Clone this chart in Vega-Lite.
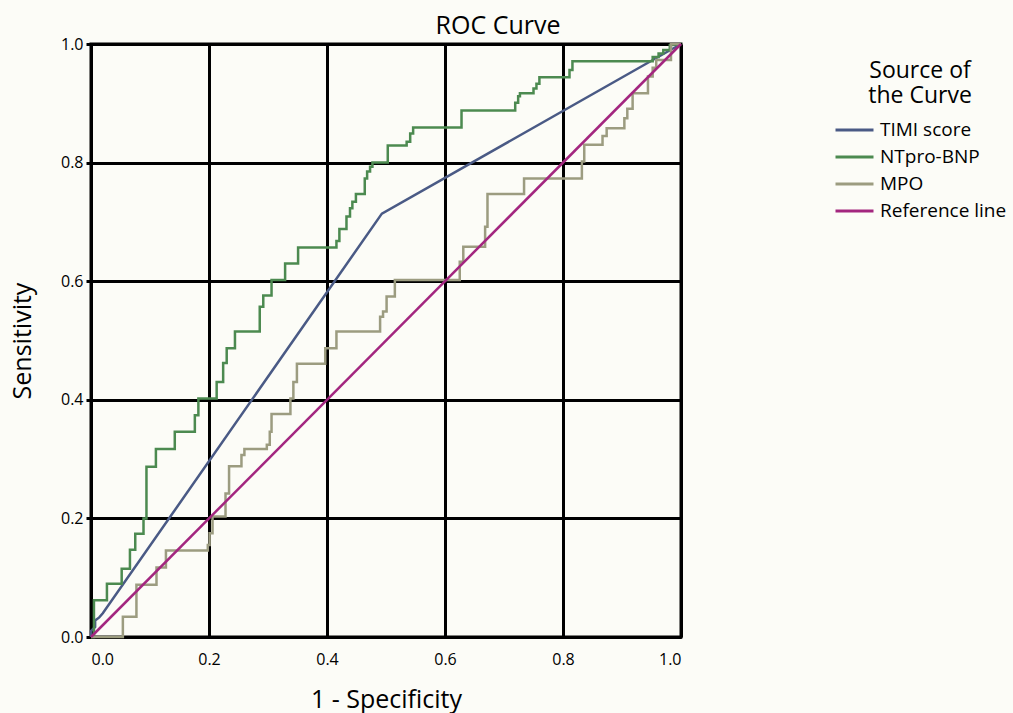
{
  "$schema": "https://vega.github.io/schema/vega-lite/v6.json",
  "autosize": "none",
  "width": 590,
  "height": 593,
  "padding": {"left": 91, "top": 44, "right": 332, "bottom": 76},
  "background": "#fcfcf7",
  "config": {
    "font": "Open Sans",
    "view": {"stroke": "black", "strokeWidth": 3},
    "axis": {
      "gridColor": "black", "gridWidth": 3, "gridOpacity": 1,
      "domainColor": "black", "domainWidth": 3,
      "labelColor": "black", "titleColor": "black",
      "labelFontSize": 16, "titleFontSize": 25, "titleFontWeight": "normal"
    }
  },
  "title": {
    "text": "ROC Curve", "fontSize": 25, "fontWeight": "normal", "color": "black",
    "anchor": "middle", "frame": "group", "dx": 112, "dy": 34, "baseline": "alphabetic", "offset": 11
  },
  "data": {"values": [
    {"curve": "TIMI score", "i": 0, "x": 0, "y": 0},
    {"curve": "TIMI score", "i": 1, "x": 0, "y": 0.01},
    {"curve": "TIMI score", "i": 2, "x": 0.007, "y": 0.017},
    {"curve": "TIMI score", "i": 3, "x": 0.007, "y": 0.028},
    {"curve": "TIMI score", "i": 4, "x": 0.014, "y": 0.033},
    {"curve": "TIMI score", "i": 5, "x": 0.02, "y": 0.04},
    {"curve": "TIMI score", "i": 6, "x": 0.493, "y": 0.714},
    {"curve": "TIMI score", "i": 7, "x": 1, "y": 1},

    {"curve": "NTpro-BNP", "i": 0, "x": 0, "y": 0},
    {"curve": "NTpro-BNP", "i": 1, "x": 0.005, "y": 0},
    {"curve": "NTpro-BNP", "i": 2, "x": 0.005, "y": 0.062},
    {"curve": "NTpro-BNP", "i": 3, "x": 0.027, "y": 0.062},
    {"curve": "NTpro-BNP", "i": 4, "x": 0.027, "y": 0.09},
    {"curve": "NTpro-BNP", "i": 5, "x": 0.052, "y": 0.09},
    {"curve": "NTpro-BNP", "i": 6, "x": 0.052, "y": 0.115},
    {"curve": "NTpro-BNP", "i": 7, "x": 0.066, "y": 0.115},
    {"curve": "NTpro-BNP", "i": 8, "x": 0.066, "y": 0.147},
    {"curve": "NTpro-BNP", "i": 9, "x": 0.075, "y": 0.147},
    {"curve": "NTpro-BNP", "i": 10, "x": 0.075, "y": 0.174},
    {"curve": "NTpro-BNP", "i": 11, "x": 0.089, "y": 0.174},
    {"curve": "NTpro-BNP", "i": 12, "x": 0.089, "y": 0.2},
    {"curve": "NTpro-BNP", "i": 13, "x": 0.094, "y": 0.2},
    {"curve": "NTpro-BNP", "i": 14, "x": 0.094, "y": 0.287},
    {"curve": "NTpro-BNP", "i": 15, "x": 0.11, "y": 0.287},
    {"curve": "NTpro-BNP", "i": 16, "x": 0.11, "y": 0.317},
    {"curve": "NTpro-BNP", "i": 17, "x": 0.142, "y": 0.317},
    {"curve": "NTpro-BNP", "i": 18, "x": 0.142, "y": 0.346},
    {"curve": "NTpro-BNP", "i": 19, "x": 0.176, "y": 0.346},
    {"curve": "NTpro-BNP", "i": 20, "x": 0.176, "y": 0.374},
    {"curve": "NTpro-BNP", "i": 21, "x": 0.182, "y": 0.374},
    {"curve": "NTpro-BNP", "i": 22, "x": 0.182, "y": 0.402},
    {"curve": "NTpro-BNP", "i": 23, "x": 0.213, "y": 0.402},
    {"curve": "NTpro-BNP", "i": 24, "x": 0.213, "y": 0.43},
    {"curve": "NTpro-BNP", "i": 25, "x": 0.224, "y": 0.43},
    {"curve": "NTpro-BNP", "i": 26, "x": 0.224, "y": 0.462},
    {"curve": "NTpro-BNP", "i": 27, "x": 0.23, "y": 0.462},
    {"curve": "NTpro-BNP", "i": 28, "x": 0.23, "y": 0.487},
    {"curve": "NTpro-BNP", "i": 29, "x": 0.244, "y": 0.487},
    {"curve": "NTpro-BNP", "i": 30, "x": 0.244, "y": 0.515},
    {"curve": "NTpro-BNP", "i": 31, "x": 0.286, "y": 0.515},
    {"curve": "NTpro-BNP", "i": 32, "x": 0.286, "y": 0.557},
    {"curve": "NTpro-BNP", "i": 33, "x": 0.292, "y": 0.557},
    {"curve": "NTpro-BNP", "i": 34, "x": 0.292, "y": 0.576},
    {"curve": "NTpro-BNP", "i": 35, "x": 0.306, "y": 0.576},
    {"curve": "NTpro-BNP", "i": 36, "x": 0.306, "y": 0.602},
    {"curve": "NTpro-BNP", "i": 37, "x": 0.329, "y": 0.602},
    {"curve": "NTpro-BNP", "i": 38, "x": 0.329, "y": 0.63},
    {"curve": "NTpro-BNP", "i": 39, "x": 0.351, "y": 0.63},
    {"curve": "NTpro-BNP", "i": 40, "x": 0.351, "y": 0.657},
    {"curve": "NTpro-BNP", "i": 41, "x": 0.416, "y": 0.657},
    {"curve": "NTpro-BNP", "i": 42, "x": 0.416, "y": 0.668},
    {"curve": "NTpro-BNP", "i": 43, "x": 0.421, "y": 0.668},
    {"curve": "NTpro-BNP", "i": 44, "x": 0.421, "y": 0.688},
    {"curve": "NTpro-BNP", "i": 45, "x": 0.433, "y": 0.688},
    {"curve": "NTpro-BNP", "i": 46, "x": 0.433, "y": 0.709},
    {"curve": "NTpro-BNP", "i": 47, "x": 0.439, "y": 0.709},
    {"curve": "NTpro-BNP", "i": 48, "x": 0.439, "y": 0.723},
    {"curve": "NTpro-BNP", "i": 49, "x": 0.443, "y": 0.723},
    {"curve": "NTpro-BNP", "i": 50, "x": 0.443, "y": 0.734},
    {"curve": "NTpro-BNP", "i": 51, "x": 0.449, "y": 0.734},
    {"curve": "NTpro-BNP", "i": 52, "x": 0.449, "y": 0.747},
    {"curve": "NTpro-BNP", "i": 53, "x": 0.464, "y": 0.747},
    {"curve": "NTpro-BNP", "i": 54, "x": 0.464, "y": 0.773},
    {"curve": "NTpro-BNP", "i": 55, "x": 0.468, "y": 0.773},
    {"curve": "NTpro-BNP", "i": 56, "x": 0.468, "y": 0.785},
    {"curve": "NTpro-BNP", "i": 57, "x": 0.473, "y": 0.785},
    {"curve": "NTpro-BNP", "i": 58, "x": 0.473, "y": 0.793},
    {"curve": "NTpro-BNP", "i": 59, "x": 0.477, "y": 0.793},
    {"curve": "NTpro-BNP", "i": 60, "x": 0.477, "y": 0.8},
    {"curve": "NTpro-BNP", "i": 61, "x": 0.503, "y": 0.8},
    {"curve": "NTpro-BNP", "i": 62, "x": 0.503, "y": 0.829},
    {"curve": "NTpro-BNP", "i": 63, "x": 0.535, "y": 0.829},
    {"curve": "NTpro-BNP", "i": 64, "x": 0.535, "y": 0.835},
    {"curve": "NTpro-BNP", "i": 65, "x": 0.541, "y": 0.835},
    {"curve": "NTpro-BNP", "i": 66, "x": 0.541, "y": 0.849},
    {"curve": "NTpro-BNP", "i": 67, "x": 0.546, "y": 0.849},
    {"curve": "NTpro-BNP", "i": 68, "x": 0.546, "y": 0.859},
    {"curve": "NTpro-BNP", "i": 69, "x": 0.628, "y": 0.859},
    {"curve": "NTpro-BNP", "i": 70, "x": 0.628, "y": 0.888},
    {"curve": "NTpro-BNP", "i": 71, "x": 0.719, "y": 0.888},
    {"curve": "NTpro-BNP", "i": 72, "x": 0.719, "y": 0.901},
    {"curve": "NTpro-BNP", "i": 73, "x": 0.724, "y": 0.901},
    {"curve": "NTpro-BNP", "i": 74, "x": 0.724, "y": 0.912},
    {"curve": "NTpro-BNP", "i": 75, "x": 0.727, "y": 0.912},
    {"curve": "NTpro-BNP", "i": 76, "x": 0.727, "y": 0.917},
    {"curve": "NTpro-BNP", "i": 77, "x": 0.75, "y": 0.917},
    {"curve": "NTpro-BNP", "i": 78, "x": 0.75, "y": 0.925},
    {"curve": "NTpro-BNP", "i": 79, "x": 0.755, "y": 0.925},
    {"curve": "NTpro-BNP", "i": 80, "x": 0.755, "y": 0.933},
    {"curve": "NTpro-BNP", "i": 81, "x": 0.76, "y": 0.933},
    {"curve": "NTpro-BNP", "i": 82, "x": 0.76, "y": 0.944},
    {"curve": "NTpro-BNP", "i": 83, "x": 0.811, "y": 0.944},
    {"curve": "NTpro-BNP", "i": 84, "x": 0.811, "y": 0.956},
    {"curve": "NTpro-BNP", "i": 85, "x": 0.816, "y": 0.956},
    {"curve": "NTpro-BNP", "i": 86, "x": 0.816, "y": 0.971},
    {"curve": "NTpro-BNP", "i": 87, "x": 0.952, "y": 0.971},
    {"curve": "NTpro-BNP", "i": 88, "x": 0.952, "y": 0.978},
    {"curve": "NTpro-BNP", "i": 89, "x": 0.962, "y": 0.978},
    {"curve": "NTpro-BNP", "i": 90, "x": 0.962, "y": 0.984},
    {"curve": "NTpro-BNP", "i": 91, "x": 0.97, "y": 0.984},
    {"curve": "NTpro-BNP", "i": 92, "x": 0.97, "y": 0.99},
    {"curve": "NTpro-BNP", "i": 93, "x": 0.981, "y": 0.99},
    {"curve": "NTpro-BNP", "i": 94, "x": 0.981, "y": 0.998},
    {"curve": "NTpro-BNP", "i": 95, "x": 1, "y": 1},

    {"curve": "MPO", "i": 0, "x": 0, "y": 0},
    {"curve": "MPO", "i": 1, "x": 0.054, "y": 0},
    {"curve": "MPO", "i": 2, "x": 0.054, "y": 0.034},
    {"curve": "MPO", "i": 3, "x": 0.077, "y": 0.034},
    {"curve": "MPO", "i": 4, "x": 0.077, "y": 0.088},
    {"curve": "MPO", "i": 5, "x": 0.111, "y": 0.088},
    {"curve": "MPO", "i": 6, "x": 0.111, "y": 0.117},
    {"curve": "MPO", "i": 7, "x": 0.127, "y": 0.117},
    {"curve": "MPO", "i": 8, "x": 0.127, "y": 0.146},
    {"curve": "MPO", "i": 9, "x": 0.198, "y": 0.146},
    {"curve": "MPO", "i": 10, "x": 0.198, "y": 0.155},
    {"curve": "MPO", "i": 11, "x": 0.201, "y": 0.155},
    {"curve": "MPO", "i": 12, "x": 0.201, "y": 0.175},
    {"curve": "MPO", "i": 13, "x": 0.206, "y": 0.175},
    {"curve": "MPO", "i": 14, "x": 0.206, "y": 0.203},
    {"curve": "MPO", "i": 15, "x": 0.228, "y": 0.203},
    {"curve": "MPO", "i": 16, "x": 0.228, "y": 0.242},
    {"curve": "MPO", "i": 17, "x": 0.234, "y": 0.242},
    {"curve": "MPO", "i": 18, "x": 0.234, "y": 0.288},
    {"curve": "MPO", "i": 19, "x": 0.255, "y": 0.288},
    {"curve": "MPO", "i": 20, "x": 0.255, "y": 0.307},
    {"curve": "MPO", "i": 21, "x": 0.26, "y": 0.307},
    {"curve": "MPO", "i": 22, "x": 0.26, "y": 0.317},
    {"curve": "MPO", "i": 23, "x": 0.298, "y": 0.317},
    {"curve": "MPO", "i": 24, "x": 0.298, "y": 0.324},
    {"curve": "MPO", "i": 25, "x": 0.303, "y": 0.324},
    {"curve": "MPO", "i": 26, "x": 0.303, "y": 0.346},
    {"curve": "MPO", "i": 27, "x": 0.306, "y": 0.346},
    {"curve": "MPO", "i": 28, "x": 0.306, "y": 0.376},
    {"curve": "MPO", "i": 29, "x": 0.338, "y": 0.376},
    {"curve": "MPO", "i": 30, "x": 0.338, "y": 0.402},
    {"curve": "MPO", "i": 31, "x": 0.343, "y": 0.402},
    {"curve": "MPO", "i": 32, "x": 0.343, "y": 0.43},
    {"curve": "MPO", "i": 33, "x": 0.349, "y": 0.43},
    {"curve": "MPO", "i": 34, "x": 0.349, "y": 0.461},
    {"curve": "MPO", "i": 35, "x": 0.397, "y": 0.461},
    {"curve": "MPO", "i": 36, "x": 0.397, "y": 0.487},
    {"curve": "MPO", "i": 37, "x": 0.416, "y": 0.487},
    {"curve": "MPO", "i": 38, "x": 0.416, "y": 0.515},
    {"curve": "MPO", "i": 39, "x": 0.49, "y": 0.515},
    {"curve": "MPO", "i": 40, "x": 0.49, "y": 0.54},
    {"curve": "MPO", "i": 41, "x": 0.495, "y": 0.54},
    {"curve": "MPO", "i": 42, "x": 0.495, "y": 0.549},
    {"curve": "MPO", "i": 43, "x": 0.501, "y": 0.549},
    {"curve": "MPO", "i": 44, "x": 0.501, "y": 0.574},
    {"curve": "MPO", "i": 45, "x": 0.515, "y": 0.574},
    {"curve": "MPO", "i": 46, "x": 0.515, "y": 0.602},
    {"curve": "MPO", "i": 47, "x": 0.625, "y": 0.602},
    {"curve": "MPO", "i": 48, "x": 0.625, "y": 0.633},
    {"curve": "MPO", "i": 49, "x": 0.631, "y": 0.633},
    {"curve": "MPO", "i": 50, "x": 0.631, "y": 0.658},
    {"curve": "MPO", "i": 51, "x": 0.668, "y": 0.658},
    {"curve": "MPO", "i": 52, "x": 0.668, "y": 0.692},
    {"curve": "MPO", "i": 53, "x": 0.672, "y": 0.692},
    {"curve": "MPO", "i": 54, "x": 0.672, "y": 0.747},
    {"curve": "MPO", "i": 55, "x": 0.734, "y": 0.747},
    {"curve": "MPO", "i": 56, "x": 0.734, "y": 0.773},
    {"curve": "MPO", "i": 57, "x": 0.832, "y": 0.773},
    {"curve": "MPO", "i": 58, "x": 0.832, "y": 0.802},
    {"curve": "MPO", "i": 59, "x": 0.836, "y": 0.802},
    {"curve": "MPO", "i": 60, "x": 0.836, "y": 0.83},
    {"curve": "MPO", "i": 61, "x": 0.867, "y": 0.83},
    {"curve": "MPO", "i": 62, "x": 0.867, "y": 0.845},
    {"curve": "MPO", "i": 63, "x": 0.874, "y": 0.845},
    {"curve": "MPO", "i": 64, "x": 0.874, "y": 0.858},
    {"curve": "MPO", "i": 65, "x": 0.904, "y": 0.858},
    {"curve": "MPO", "i": 66, "x": 0.904, "y": 0.875},
    {"curve": "MPO", "i": 67, "x": 0.909, "y": 0.875},
    {"curve": "MPO", "i": 68, "x": 0.909, "y": 0.891},
    {"curve": "MPO", "i": 69, "x": 0.918, "y": 0.891},
    {"curve": "MPO", "i": 70, "x": 0.918, "y": 0.917},
    {"curve": "MPO", "i": 71, "x": 0.944, "y": 0.917},
    {"curve": "MPO", "i": 72, "x": 0.944, "y": 0.945},
    {"curve": "MPO", "i": 73, "x": 0.952, "y": 0.945},
    {"curve": "MPO", "i": 74, "x": 0.952, "y": 0.96},
    {"curve": "MPO", "i": 75, "x": 0.958, "y": 0.96},
    {"curve": "MPO", "i": 76, "x": 0.958, "y": 0.973},
    {"curve": "MPO", "i": 77, "x": 0.983, "y": 0.973},
    {"curve": "MPO", "i": 78, "x": 0.983, "y": 1},
    {"curve": "MPO", "i": 79, "x": 1, "y": 1},

    {"curve": "Reference line", "i": 0, "x": 0, "y": 0},
    {"curve": "Reference line", "i": 1, "x": 1, "y": 1}
  ]},
  "mark": {"type": "line", "strokeWidth": 2.5, "clip": false},
  "encoding": {
    "x": {
      "field": "x", "type": "quantitative",
      "scale": {"domain": [0, 1], "nice": false},
      "axis": {
        "title": "1 - Specificity", "values": [0, 0.2, 0.4, 0.6, 0.8, 1], "format": ".1f",
        "ticks": false, "labelPadding": 14,
        "titleX": 295, "titleY": 70, "titleBaseline": "alphabetic", "titleAlign": "center"
      }
    },
    "y": {
      "field": "y", "type": "quantitative",
      "scale": {"domain": [0, 1], "nice": false},
      "axis": {
        "title": "Sensitivity", "values": [0, 0.2, 0.4, 0.6, 0.8, 1], "format": ".1f",
        "ticks": true, "tickSize": 5, "tickWidth": 3, "tickColor": "black", "labelPadding": 3,
        "titleX": -61, "titleY": 296.5, "titleAngle": 270, "titleBaseline": "alphabetic", "titleAlign": "center"
      }
    },
    "order": {"field": "i", "type": "quantitative"},
    "color": {
      "field": "curve", "type": "nominal",
      "scale": {
        "domain": ["TIMI score", "NTpro-BNP", "MPO", "Reference line"],
        "range": ["#4a5a85", "#4c8a50", "#9c9c80", "#a3267f"]
      },
      "legend": {
        "title": ["Source of", "the Curve"],
        "orient": "none", "legendX": 743, "legendY": 16,
        "titleFontSize": 23, "titleFontWeight": "normal", "titleColor": "black",
        "titleLineHeight": 25, "titleAnchor": "middle", "titleAlign": "center",
        "titlePadding": 11,
        "labelFontSize": 19, "labelColor": "black", "labelOffset": 24,
        "symbolType": "M-1,0H3", "symbolSize": 361, "symbolStrokeWidth": 3,
        "rowPadding": 6, "padding": 0
      }
    }
  }
}
